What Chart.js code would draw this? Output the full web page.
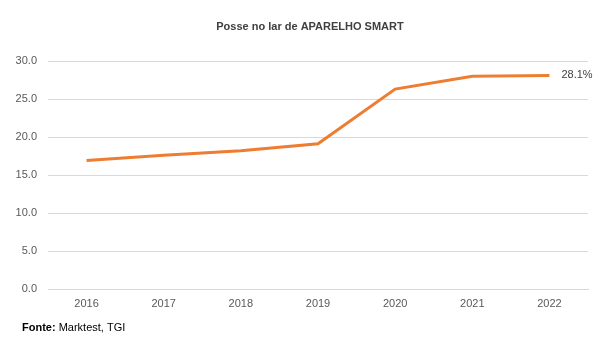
<!DOCTYPE html>
<html><head><meta charset="utf-8">
<script src="https://cdn.jsdelivr.net/npm/chart.js@4"></script>
<style>html,body{margin:0;padding:0;background:#fff}#w{width:601px;height:355px}</style>
</head><body><div id="w"><canvas id="c" width="601" height="355"></canvas></div>
<script>
const years = ['2016','2017','2018','2019','2020','2021','2022'];
const posse = [16.9, 17.6, 18.2, 19.1, 26.3, 28.0, 28.1];
const endLabel = '28.1%';
const titleText = 'Posse no lar de APARELHO SMART';
const sourceBold = 'Fonte:';
const sourceText = ' Marktest, TGI';
const FONT = "'Liberation Sans', Arial, sans-serif";

const extras = {
  id: 'extras',
  afterDraw(chart) {
    const ctx = chart.ctx;
    ctx.save();
    ctx.fillStyle = '#404040';
    ctx.font = 'bold 11px ' + FONT;
    ctx.textAlign = 'center';
    ctx.textBaseline = 'middle';
    ctx.fillText(titleText, 310, 27);
    const meta = chart.getDatasetMeta(0);
    const p = meta.data[meta.data.length - 1];
    ctx.font = '11px ' + FONT;
    ctx.textAlign = 'left';
    ctx.fillText(endLabel, p.x + 12, p.y);
    ctx.fillStyle = '#000';
    ctx.font = 'bold 11px ' + FONT;
    ctx.fillText(sourceBold, 22, 328);
    const w = ctx.measureText(sourceBold).width;
    ctx.font = '11px ' + FONT;
    ctx.fillText(sourceText, 22 + w, 328);
    ctx.restore();
  }
};

new Chart(document.getElementById('c'), {
  type: 'line',
  data: { labels: years, datasets: [{ data: posse, borderColor: '#ED7D31', borderWidth: 3, pointRadius: 0, tension: 0, fill: false }] },
  options: {
    responsive: false, animation: false,
    layout: { padding: { top: 61, right: 13, bottom: 36, left: 0 } },
    plugins: { legend: { display: false }, title: { display: false }, tooltip: { enabled: false } },
    scales: {
      y: {
        min: 0, max: 30,
        ticks: { stepSize: 5, color: '#595959', font: { family: FONT, size: 11 }, padding: 11, callback: v => v.toFixed(1) },
        grid: { color: '#d9d9d9', drawTicks: false },
        border: { display: false },
        afterFit: s => { s.width = 48; }
      },
      x: {
        offset: true,
        ticks: { color: '#595959', font: { family: FONT, size: 11 }, padding: 8, maxRotation: 0 },
        grid: { display: false, drawTicks: false },
        border: { display: true, color: '#d9d9d9' },
        afterFit: s => { s.height = 30; }
      }
    }
  },
  plugins: [extras]
});
</script></body></html>
